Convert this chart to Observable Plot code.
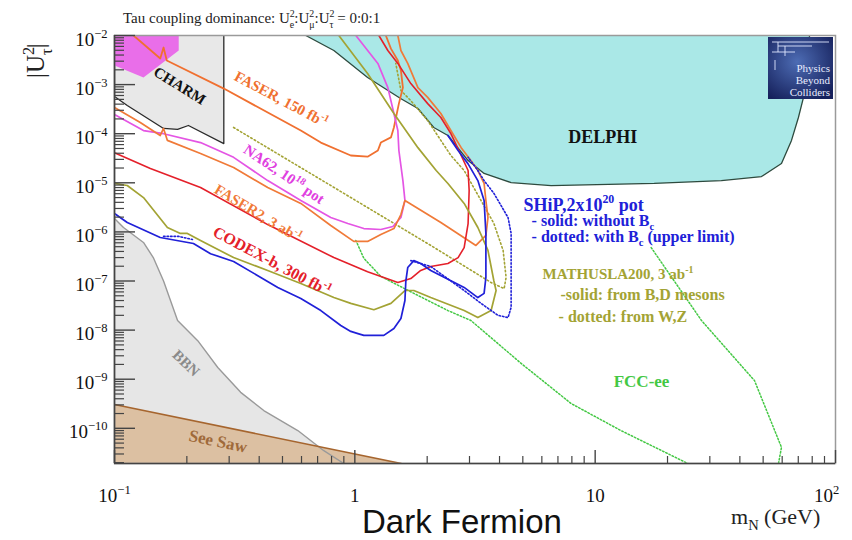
<!DOCTYPE html>
<html><head><meta charset="utf-8">
<script src="https://cdn.jsdelivr.net/npm/d3@7"></script>
<script src="https://cdn.jsdelivr.net/npm/@observablehq/plot@0.6"></script>
<style>
html,body{margin:0;padding:0;background:#fff;}
#chart{position:relative;width:852px;height:540px;}
</style></head><body><div id="chart"></div>
<script>
const SERIF = "'Liberation Serif','Times New Roman',serif";

// ---- axis ticks ----
const xTicks = [0.1, 1, 10, 100];
const xTickLabels = ["10^{−1}", "1", "10", "10^{2}"];
const yTicks = [1e-2, 1e-3, 1e-4, 1e-5, 1e-6, 1e-7, 1e-8, 1e-9, 1e-10];
const yTickLabels = ["10^{−2}", "10^{−3}", "10^{−4}", "10^{−5}", "10^{−6}", "10^{−7}", "10^{−8}", "10^{−9}", "10^{−10}"];
const xMin = 0.1, xMax = 100, yMin = 1.92e-11, yMax = 1e-2;

// ---- excluded regions [mN (GeV), U2] ----
const delphi = [[0.625,1e-2],[0.818,4.95e-3],[1.13,1.40e-3],[1.55,5.2e-4],[1.83,3.26e-4],[2.13,1.34e-4],[2.44,9.2e-5],[2.96,2.84e-5],[3.45,1.55e-5],[4.47,1.01e-5],[6.56,8.8e-6],[17.6,9.7e-6],[33.5,1.11e-5],[49.2,1.34e-5],[59.6,2.47e-5],[65.6,7.3e-5],[70.1,2.14e-4],[73.6,5.5e-4],[78.0,1e-2]];
const charm = [[0.1,1e-2],[0.1,5.7e-4],[0.113,3.75e-4],[0.16,1.28e-4],[0.183,1.22e-4],[0.203,1.47e-4],[0.285,6.3e-5],[0.285,1e-2]];
const magentaRegion = [[0.1,1e-2],[0.185,1e-2],[0.185,4.95e-3],[0.132,1.4e-3],[0.1,2.45e-3]];
const bbn = [[0.1,1.87e-6],[0.109,1.23e-6],[0.132,6.1e-7],[0.145,3.0e-7],[0.16,1.0e-7],[0.183,1.57e-8],[0.222,6.1e-9],[0.269,1.73e-9],[0.335,5.4e-10],[0.418,2.3e-10],[0.579,9.0e-11],[0.743,3.5e-11],[0.9,1.92e-11]];
const seesaw = [[0.1,3.05e-10],[1.56,1.92e-11]];

// ---- sensitivity curves ----
const faser150 = [[0.12,1e-2],[0.155,3.4e-3],[0.16,5.7e-3],[0.165,3.1e-3],[0.285,8.3e-4],[0.596,1.16e-4],[0.722,6.6e-5],[0.962,3.6e-5],[1.13,3.4e-5],[1.247,4.55e-5],[1.283,6.6e-5],[1.413,8.4e-5],[1.454,1.34e-4],[1.525,4.1e-4],[1.585,8.7e-4],[1.555,1.94e-3],[1.51,3.1e-3],[1.413,5.4e-3],[1.346,1e-2]];
const faser2 = [[0.1,3.4e-4],[0.128,1.69e-4],[0.155,9.2e-5],[0.16,1.28e-4],[0.166,7.3e-5],[0.228,3.95e-5],[0.313,2.05e-5],[0.434,8.0e-6],[0.596,3.8e-6],[0.794,1.35e-6],[0.99,6.4e-7],[1.13,6.4e-7],[1.283,8.85e-7],[1.454,1.17e-6],[1.555,2.26e-6],[1.616,4.36e-6],[2.28,1.55e-6],[3.19,5.3e-7],[3.51,8.5e-7],[3.58,1.96e-6],[3.51,4.36e-6],[3.45,9.7e-6],[3.25,1.78e-5],[3.04,2.84e-5],[2.77,5.2e-5],[2.51,1.16e-4],[2.28,2.58e-4],[2.01,5.5e-4],[1.83,8.7e-4],[1.66,2.7e-3],[1.555,4.95e-3],[1.51,1e-2]];
const na62 = [[0.1,2.45e-4],[0.132,1.16e-4],[0.16,1.0e-4],[0.228,6.6e-5],[0.313,3.3e-5],[0.434,1.11e-5],[0.596,4.36e-6],[0.794,1.96e-6],[0.935,1.48e-6],[1.09,1.17e-6],[1.283,1.12e-6],[1.44,1.29e-6],[1.555,1.96e-6],[1.616,4.36e-6],[1.585,1.11e-5],[1.525,4.55e-5],[1.51,1.16e-4],[1.454,2.58e-4],[1.372,8.7e-4],[1.247,2.7e-3],[1.01,1e-2]];
const codex = [[0.1,4.1e-5],[0.141,1.95e-5],[0.228,8.0e-6],[0.434,1.41e-6],[0.818,3.0e-7],[1.13,1.55e-7],[1.51,9.3e-8],[1.71,1.12e-7],[1.88,1.64e-7],[2.07,1.97e-7],[2.44,2.27e-7],[2.69,3.0e-7],[2.85,4.8e-7],[2.96,1.48e-6],[2.99,7.0e-6],[2.96,1.78e-5],[2.71,4.55e-5],[2.51,1.0e-4],[2.28,2.14e-4],[2.01,4.1e-4],[1.71,1.05e-3],[1.51,2.7e-3],[1.372,4.95e-3],[1.259,1e-2]];
const mathusla = [[0.1,9.7e-6],[0.113,8.8e-6],[0.132,5.0e-6],[0.166,1.23e-6],[0.188,9.3e-7],[0.201,9.3e-7],[0.228,6.7e-7],[0.313,3.0e-7],[0.434,1.64e-7],[0.596,8.9e-8],[0.818,4.6e-8],[0.962,3.5e-8],[1.2,2.6e-8],[1.413,3.5e-8],[1.616,6.4e-8],[1.76,6.4e-8],[2.07,4.6e-8],[2.85,2.5e-8],[3.25,1.8e-8],[3.69,2.5e-8],[3.87,6.4e-8],[3.79,1.0e-7],[3.58,4.2e-7],[3.25,1.23e-6],[2.85,3.8e-6],[2.44,9.7e-6],[2.18,1.78e-5],[1.83,5.2e-5],[1.454,2.58e-4],[1.13,1.68e-3],[0.858,1e-2]];
const mathuslaWZ = [[0.313,1.34e-4],[0.794,8.8e-6],[2.07,5.3e-7],[3.69,9.3e-8],[4.18,7.0e-8],[4.26,1.18e-7],[4.14,4.2e-7],[3.79,1.48e-6],[3.35,4.36e-6],[2.85,1.78e-5],[2.51,3.6e-5],[2.28,7.3e-5],[2.01,1.86e-4],[1.71,4.7e-4],[1.555,7.6e-4],[1.48,2.7e-3]];
const ship = [[0.1,2.37e-6],[0.113,1.55e-6],[0.155,7.7e-7],[0.213,5.8e-7],[0.251,3.6e-7],[0.313,2.5e-7],[0.478,7.4e-8],[0.596,4.4e-8],[0.722,2.5e-8],[0.874,1.24e-8],[0.962,9.4e-9],[1.03,8.5e-9],[1.09,7.8e-9],[1.32,7.8e-9],[1.454,1.08e-8],[1.555,1.72e-8],[1.616,4.0e-8],[1.63,1.0e-7],[1.66,1.88e-7],[1.76,2.6e-7],[1.88,2.27e-7],[2.07,1.64e-7],[2.85,7.4e-8],[3.25,4.6e-8],[3.45,5.6e-8],[3.51,1.18e-7],[3.51,9.3e-7],[3.45,4.36e-6],[3.25,1.11e-5],[2.96,2.43e-5],[2.69,4.55e-5],[2.44,9.2e-5]];
const shipBcLow = [[0.16,8.1e-7],[0.185,8.1e-7],[0.211,7.0e-7]];
const shipBc = [[1.71,2.6e-7],[2.07,1.97e-7],[2.85,6.4e-8],[3.35,3.5e-8],[3.94,2.0e-8],[4.34,1.8e-8],[4.47,2.9e-8],[4.47,2.27e-7],[4.47,9.3e-7],[4.34,1.96e-6],[3.79,6.1e-6],[3.45,1.11e-5],[3.25,1.78e-5],[2.96,3.3e-5]];
const fccLow = [[1.01,6.7e-7],[1.09,2.9e-7],[1.283,1.24e-7],[1.76,5.6e-8],[2.44,2.5e-8],[3.04,1.57e-8],[4.92,2.1e-9],[7.94,3.2e-10],[12.8,9.0e-11],[24.4,1.9e-11]];
const fccHigh = [[17.1,4.8e-7],[27.7,1.57e-8],[46.0,9.4e-10],[59.6,4.1e-11],[57.9,1.9e-11]];

// ---- annotations (data coordinates) ----
const labels = [
  {t:"CHARM", x:0.188, y:9.4e-4, r:32, s:15, c:"#111"},
  {t:"FASER, 150 fb^{-1}", x:0.497, y:4.97e-4, r:28, s:15, c:"#f07030"},
  {t:"NA62, 10^{18} pot", x:0.511, y:1.48e-5, r:34, s:15, c:"#e040e0"},
  {t:"FASER2, 3 ab^{-1}", x:0.398, y:2.37e-6, r:31, s:15, c:"#f07a38"},
  {t:"CODEX-b, 300 fb^{-1}", x:0.455, y:2.5e-7, r:28, s:16, c:"#e4202a"},
  {t:"BBN", x:0.2, y:2.1e-9, r:44, s:15, c:"#8a8a8a"},
  {t:"See Saw", x:0.271, y:5.4e-11, r:12, s:17, c:"#a06a3a"},
  {t:"DELPHI", x:10.8, y:8.4e-5, r:0, s:18, c:"#111"}
];
const blocks = [
  {t:"SHiP,2x10^{20} pot", x:5.06, y:2.6e-6, s:18, c:"#2020d8"},
  {t:" - solid: without B_{c}", x:5.26, y:1.31e-6, s:16, c:"#2020d8"},
  {t:" - dotted: with B_{c} (upper limit)", x:5.26, y:6.2e-7, s:16, c:"#2020d8"},
  {t:"MATHUSLA200, 3 ab^{-1}", x:6.07, y:1.07e-7, s:15, c:"#a3a334"},
  {t:"-solid: from B,D mesons", x:7.21, y:4.0e-8, s:16, c:"#a3a334"},
  {t:"- dotted: from W,Z", x:7.08, y:1.43e-8, s:16, c:"#a3a334"},
  {t:"FCC-ee", x:12.0, y:6.8e-10, s:17, c:"#44c844"}
];

const xLab = new Map(xTicks.map((t, i) => [t, xTickLabels[i]]));
const yLab = new Map(yTicks.map((t, i) => [t, yTickLabels[i]]));
const xMinor = []; for (let e = -1; e < 2; e++) for (let k = 2; k < 10; k++) xMinor.push(k * 10 ** e);
const yMinor = []; for (let e = -11; e < -2; e++) for (let k = 2; k < 10; k++) { const v = k * 10 ** e; if (v > yMin) yMinor.push(v); }

const W = 852, H = 540, mL = 114, mR = 17, mT = 35, mB = 77;
const pw = W - mL - mR, ph = H - mT - mB;
const xy = {x: d => d[0], y: d => d[1], clip: true};
const c0 = [[xMin, yMin]];

const plot = Plot.plot({
  width: W, height: H, marginLeft: mL, marginRight: mR, marginTop: mT, marginBottom: mB,
  style: {fontFamily: SERIF, fontSize: "19px", color: "#111", background: "white", overflow: "visible"},
  x: {type: "log", domain: [xMin, xMax], ticks: xTicks, tickFormat: d => xLab.get(d), tickSize: 0, tickPadding: 25, label: null},
  y: {type: "log", domain: [yMin, yMax], ticks: yTicks, tickFormat: d => yLab.get(d), tickSize: 0, tickPadding: 7, label: null},
  marks: [
    Plot.line(delphi, {...xy, fill: "#aae8e7", stroke: "#2e4a3e", strokeWidth: 1.3}),
    Plot.line(charm, {...xy, fill: "#e8e8e8", stroke: "#2a2a2a", strokeWidth: 1.3}),
    Plot.line(magentaRegion, {...xy, fill: "#e96ee9", stroke: "none"}),
    Plot.line(c0.concat(bbn), {...xy, fill: "#e6e6e6", stroke: "none"}),
    Plot.line(c0.concat(seesaw), {...xy, fill: "#dcc0a2", stroke: "none"}),
    Plot.line(bbn, {...xy, stroke: "#9a9a9a", strokeWidth: 1.4}),
    Plot.line(seesaw, {...xy, stroke: "#a6652e", strokeWidth: 1.6}),
    Plot.line(fccLow, {...xy, stroke: "#44c844", strokeWidth: 1.5, strokeDasharray: "1.5,2"}),
    Plot.line(fccHigh, {...xy, stroke: "#44c844", strokeWidth: 1.5, strokeDasharray: "1.5,2"}),
    Plot.line(mathuslaWZ, {...xy, stroke: "#a3a334", strokeWidth: 1.6, strokeDasharray: "1.5,2.5"}),
    Plot.line(faser150, {...xy, stroke: "#f07030", strokeWidth: 1.8}),
    Plot.line(na62, {...xy, stroke: "#e455e4", strokeWidth: 1.7}),
    Plot.line(faser2, {...xy, stroke: "#f07a38", strokeWidth: 1.7}),
    Plot.line(codex, {...xy, stroke: "#e4202a", strokeWidth: 1.6}),
    Plot.line(mathusla, {...xy, stroke: "#a3a334", strokeWidth: 1.7}),
    Plot.line(shipBcLow, {...xy, stroke: "#2020d8", strokeWidth: 1.6, strokeDasharray: "1.5,2"}),
    Plot.line(shipBc, {...xy, stroke: "#2020d8", strokeWidth: 1.6, strokeDasharray: "1.5,2"}),
    Plot.line(ship, {...xy, stroke: "#2020d8", strokeWidth: 1.7}),
    Plot.frame({stroke: "#9a9a9a", strokeWidth: 1.5}),
    Plot.tickY(yMinor, {y: d => d, insetRight: pw - 10, stroke: "#444", strokeWidth: 1.2}),
    Plot.tickY(yTicks, {y: d => d, insetRight: pw - 21, stroke: "#444", strokeWidth: 1.4}),
    Plot.tickX(xMinor, {x: d => d, insetTop: ph - 7, stroke: "#444", strokeWidth: 1.2}),
    Plot.tickX(xTicks, {x: d => d, insetTop: ph - 13, stroke: "#444", strokeWidth: 1.4}),
    Plot.ruleX([xMin], {stroke: "#444", strokeWidth: 1.6}),
    Plot.ruleY([yMin], {stroke: "#444", strokeWidth: 1.6})
  ]
});
document.getElementById("chart").append(plot);

// rich text: ^{sup}, _{sub}, _!{sub stacked under previous sup}
function rich(sel, str, fs, dy0 = 0) {
  const parts = str.split(/(\^\{[^}]*\}|_!\{[^}]*\}|_\{[^}]*\})/).filter(s => s !== "");
  let shift = 0, supLen = 0, first = true;
  for (const p of parts) {
    let t = p, target = 0, small = false, stack = false, sup = false;
    if (p.startsWith("^{")) { t = p.slice(2, -1); target = -0.42 * fs; small = true; sup = true; }
    else if (p.startsWith("_!{")) { t = p.slice(3, -1); target = 0.3 * fs; small = true; stack = true; }
    else if (p.startsWith("_{")) { t = p.slice(2, -1); target = 0.28 * fs; small = true; }
    const ts = sel.append("tspan").text(t).attr("dy", target - shift + (first ? dy0 : 0));
    first = false;
    if (small) ts.attr("font-size", fs * 0.66);
    if (stack) ts.attr("dx", -supLen);
    shift = target;
    if (sup) supLen = ts.node().getComputedTextLength();
  }
}

const svg = d3.select(plot);
svg.selectAll("g[aria-label^='y-axis'] text").each(function () {
  const s = this.textContent;
  if (s.includes("^{")) { const sel = d3.select(this); sel.text(""); rich(sel, s, 19, 4); }
});
svg.selectAll("text").each(function () {
  const s = this.textContent;
  if (s.includes("^{")) {
    const sel = d3.select(this); sel.text(""); rich(sel, s, 19);
    if (s === "10^{2}") sel.attr("dx", -9);
  }
});

const sx = plot.scale("x"), sy = plot.scale("y");
const g = svg.append("g").attr("font-family", SERIF).attr("text-anchor", "start");

for (const L of labels) {
  const t = g.append("text")
    .attr("transform", `translate(${sx.apply(L.x)},${sy.apply(L.y)}) rotate(${L.r})`)
    .attr("text-anchor", "middle").attr("y", 0.35 * L.s)
    .attr("font-size", L.s).attr("font-weight", "bold").attr("fill", L.c);
  rich(t, L.t, L.s);
}
for (const B of blocks) {
  const t = g.append("text").attr("text-anchor", "start")
    .attr("x", sx.apply(B.x)).attr("y", sy.apply(B.y))
    .attr("font-size", B.s).attr("font-weight", "bold").attr("fill", B.c);
  rich(t, B.t, B.s);
}

// title, axis titles, caption
const title = g.append("text").attr("text-anchor", "start").attr("x", 123).attr("y", 23).attr("font-size", 15).attr("fill", "#222");
rich(title, "Tau coupling dominance: U^{2}_!{e}:U^{2}_!{μ}:U^{2}_!{τ} = 0:0:1", 15);
const ytitle = g.append("text").attr("text-anchor", "start").attr("transform", "translate(44,78) rotate(-90)")
  .attr("font-size", 25).attr("fill", "#222");
rich(ytitle, "|U^{2}_!{τ}|", 25);
const xtitle = g.append("text").attr("text-anchor", "start").attr("x", 731).attr("y", 524).attr("font-size", 22).attr("fill", "#222");
rich(xtitle, "m_{N} (GeV)", 22);
g.append("text").attr("text-anchor", "start").attr("x", 362).attr("y", 533).attr("font-family", "'Liberation Sans',Arial,sans-serif")
  .attr("font-size", 33).attr("fill", "#111").text("Dark Fermion");

// "Physics Beyond Colliders" badge
const defs = svg.append("defs");
const rg = defs.append("radialGradient").attr("id", "pbc").attr("cx", "45%").attr("cy", "40%").attr("r", "70%");
rg.append("stop").attr("offset", "0%").attr("stop-color", "#4d6cb4");
rg.append("stop").attr("offset", "100%").attr("stop-color", "#16215c");
const lg = svg.append("g");
lg.append("rect").attr("x", 768).attr("y", 37).attr("width", 65).attr("height", 62).attr("fill", "url(#pbc)");
lg.append("path").attr("d", "M772,42H829M778,46H812M778,42V52M785,46V56M772,52H795M775,60V70")
  .attr("stroke", "#dfe6ff").attr("stroke-width", 0.9).attr("fill", "none");
[["Physics", 72], ["Beyond", 84], ["Colliders", 96]].forEach(([s, y]) =>
  lg.append("text").attr("x", 830).attr("y", y).attr("text-anchor", "end")
    .attr("font-family", SERIF).attr("font-size", 11).attr("fill", "#e8ecff").text(s));
</script></body></html>
